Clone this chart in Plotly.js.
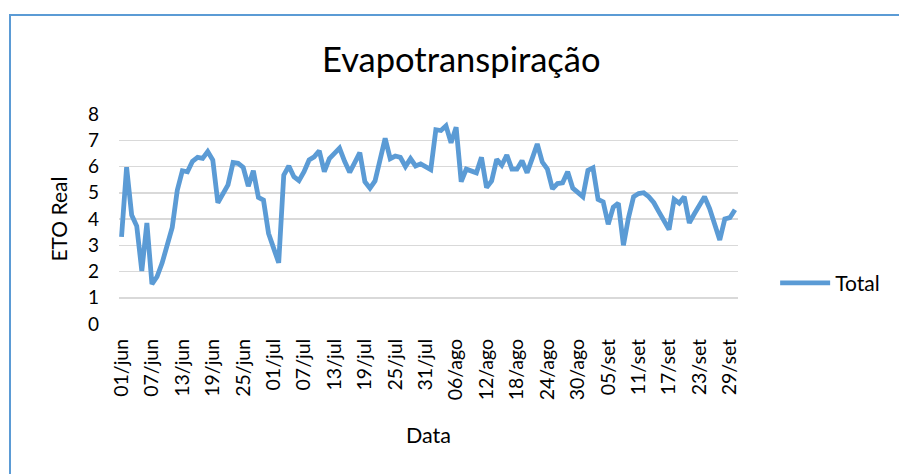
<!DOCTYPE html>
<html>
<head>
<meta charset="utf-8">
<script src="https://cdn.plot.ly/plotly-3.0.1.min.js"></script>
<style>
  html, body { margin:0; padding:0; background:#fff; overflow:hidden; }
  #wrap { position:relative; width:899px; height:474px; }
  #chart { position:absolute; left:0; top:0; width:899px; height:474px; }
  #frame { position:absolute; left:9px; top:14px; width:900px; height:480px; border:2px solid #5B9BD5; pointer-events:none; }
</style>
</head>
<body>
<div id="wrap">
  <div id="chart"></div>
  <div id="frame"></div>
</div>
<script>
// Months (Portuguese abbreviations) and number of days shown in each
const monthNames = ["jun", "jul", "ago", "set"];
const monthDays  = [30, 31, 31, 30];

// ETO Real, daily values from 01/jun to 30/set
const etoValues = [
  3.32, 5.97, 4.15, 3.73, 2.02, 3.85, 1.52, 1.80, 2.32, 2.98,
  3.68, 5.10, 5.84, 5.80, 6.20, 6.35, 6.31, 6.57, 6.25, 4.62,
  5.00, 5.30, 6.15, 6.12, 5.97, 5.25, 5.84, 4.82, 4.72, 3.45,
  2.89, 2.33, 5.67, 6.02, 5.61, 5.46, 5.80, 6.25, 6.37, 6.60,
  5.80, 6.30, 6.50, 6.70, 6.20, 5.78, 6.15, 6.53, 5.42, 5.17,
  5.45, 6.25, 7.07, 6.30, 6.40, 6.35, 6.00, 6.30, 6.02, 6.10,
  5.97, 5.88, 7.40, 7.37, 7.55, 6.90, 7.50, 5.42, 5.90, 5.85,
  5.76, 6.35, 5.20, 5.45, 6.27, 6.05, 6.44, 5.90, 5.90, 6.22,
  5.76, 6.30, 6.86, 6.17, 5.90, 5.15, 5.35, 5.38, 5.80, 5.18,
  5.00, 4.85, 5.85, 5.95, 4.75, 4.65, 3.80, 4.45, 4.60, 3.00,
  4.05, 4.85, 4.97, 5.00, 4.85, 4.62, 4.27, 3.90, 3.60, 4.75,
  4.60, 4.85, 3.85, 4.20, 4.50, 4.85, 4.40, 3.85, 3.20, 4.00,
  4.05, 4.35
];

// Tick labels shown on the category axis
const tickLabels = ["01/jun","07/jun","13/jun","19/jun","25/jun","01/jul","07/jul",
  "13/jul","19/jul","25/jul","31/jul","06/ago","12/ago","18/ago","24/ago","30/ago",
  "05/set","11/set","17/set","23/set","29/set"];

const yTicks = [0,1,2,3,4,5,6,7,8];

// Build the date categories
const dates = [];
monthNames.forEach((m, mi) => {
  for (let d = 1; d <= monthDays[mi]; d++) {
    dates.push(String(d).padStart(2, "0") + "/" + m);
  }
});

const FONT = "Lato, 'Open Sans', sans-serif";

const trace = {
  x: dates,
  y: etoValues,
  type: "scatter",
  mode: "lines",
  name: "Total",
  line: { color: "#5B9BD5", width: 4.8, shape: "linear" },
  hoverinfo: "x+y"
};

const layout = {
  width: 899,
  height: 474,
  margin: { l: 119, r: 161, t: 114, b: 150 },
  paper_bgcolor: "rgba(0,0,0,0)",
  plot_bgcolor: "rgba(0,0,0,0)",
  font: { family: FONT, color: "#000" },
  title: {
    text: "Evapotranspiração",
    font: { family: FONT, size: 34.5, color: "#000" },
    xref: "paper", x: 0.553, xanchor: "center",
    yref: "container", y: 1 - 60/474, yanchor: "middle"
  },
  xaxis: {
    type: "category",
    range: [-0.5, 121.6],
    tickmode: "array",
    tickvals: tickLabels,
    ticktext: tickLabels,
    tickangle: -90,
    tickfont: { family: FONT, size: 19.5, color: "#000" },
    ticklabelstandoff: 10,
    showgrid: false,
    zeroline: false,
    showline: false,
    ticks: "",
    title: { text: "Data", font: { family: FONT, size: 21.5, color: "#000" }, standoff: 28 }
  },
  yaxis: {
    range: [0, 8],
    tickmode: "array",
    tickvals: yTicks,
    ticktext: yTicks.map(String),
    tickfont: { family: FONT, size: 19, color: "#000" },
    ticklabelstandoff: 19,
    showgrid: true,
    gridcolor: "#D9D9D9",
    gridwidth: 1.5,
    zeroline: false,
    showline: false,
    ticks: "",
    title: { text: "ETO Real", font: { family: FONT, size: 21, color: "#000" }, standoff: 14 }
  },
  showlegend: true,
  legend: {
    x: 1.06, xanchor: "left",
    y: 0.194, yanchor: "middle",
    font: { family: FONT, size: 21, color: "#000" },
    bgcolor: "rgba(0,0,0,0)",
    itemwidth: 50
  }
};

Plotly.newPlot("chart", [trace], layout, { displayModeBar: false, staticPlot: true });
</script>
</body>
</html>
